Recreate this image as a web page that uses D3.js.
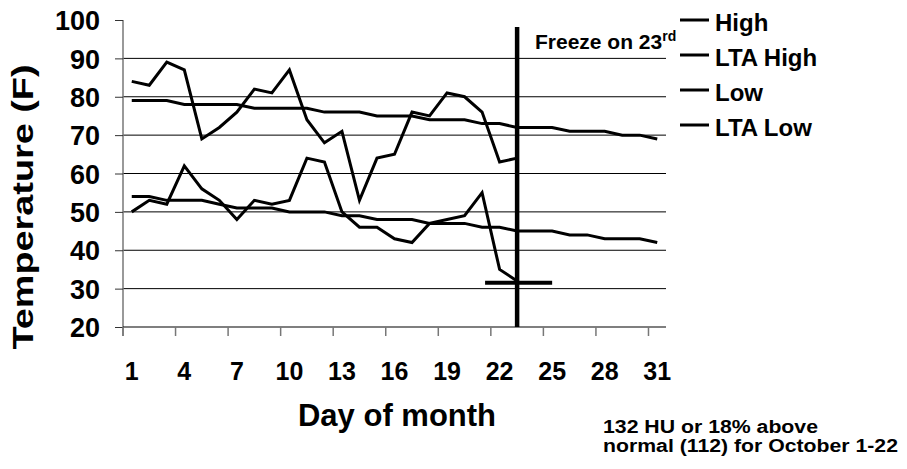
<!DOCTYPE html>
<html>
<head>
<meta charset="utf-8">
<script src="https://cdn.jsdelivr.net/npm/d3@7"></script>
<style>
  body { margin: 0; background: #fff; }
  svg text { font-family: "Liberation Sans", Arial, sans-serif; font-weight: bold; fill: #000; }
</style>
</head>
<body>
<svg id="chart" width="907" height="469"></svg>
<script>
// October daily temperatures (F)
const days = d3.range(1, 32);
const high = [84, 83, 89, 87, 69, 72, 76, 82, 81, 87, 74, 68, 71, 53, 64, 65, 76, 75, 81, 80, 76, 63, 64];
const ltaHigh = [79, 79, 79, 78, 78, 78, 78, 77, 77, 77, 77, 76, 76, 76, 75, 75, 75, 74, 74, 74, 73, 73,
                 72, 72, 72, 71, 71, 71, 70, 70, 69];
const low = [50, 53, 52, 62, 56, 53, 48, 53, 52, 53, 64, 63, 50, 46, 46, 43, 42, 47, 48, 49, 55, 35, 32];
const ltaLow = [54, 54, 53, 53, 53, 52, 51, 51, 51, 50, 50, 50, 49, 49, 48, 48, 48, 47, 47, 47, 46, 46,
                45, 45, 45, 44, 44, 43, 43, 43, 42];
const yTicks = [20, 30, 40, 50, 60, 70, 80, 90, 100];
const xTickDays = [1, 4, 7, 10, 13, 16, 19, 22, 25, 28, 31];
const seriesNames = ["High", "LTA High", "Low", "LTA Low"];
const noteLines = ["132 HU or 18% above", "normal (112) for October 1-22"];
const freezeDay = 23;
const freezeTemp = 31.5;
const freezeSpan = [21, 25];

const svg = d3.select("#chart");
const plot = {left: 123, right: 666, top: 20, bottom: 327};

const x = d3.scaleBand().domain(days).range([plot.left, plot.right]).padding(0);
const xc = d => x(d) + x.bandwidth() / 2;
const y = d3.scaleLinear().domain([20, 100]).range([plot.bottom, plot.top]);

// gridlines
svg.append("g")
  .selectAll("line")
  .data(yTicks.filter(v => v > 20 && v < 100))
  .join("line")
  .attr("x1", plot.left).attr("x2", plot.right)
  .attr("y1", d => y(d)).attr("y2", d => y(d))
  .attr("stroke", "#000").attr("stroke-width", 1);

// y axis
const yAxis = svg.append("g")
  .attr("transform", `translate(${plot.left},0)`)
  .call(d3.axisLeft(y).tickValues(yTicks).tickSize(8).tickPadding(15).tickFormat(d3.format("d")));
yAxis.select(".domain").attr("stroke", "#777").attr("stroke-width", 1.5)
  .attr("d", `M0,${plot.top}V${plot.bottom + 9}`);
yAxis.selectAll(".tick line").attr("stroke", "#333");
yAxis.selectAll("text").style("font-size", "27px").attr("dy", "0.36em");

// x axis
svg.append("line")
  .attr("x1", plot.left).attr("x2", plot.right)
  .attr("y1", plot.bottom).attr("y2", plot.bottom)
  .attr("stroke", "#000").attr("stroke-width", 1.2);

svg.append("g")
  .selectAll("line")
  .data(xTickDays)
  .join("line")
  .attr("x1", d => x(d)).attr("x2", d => x(d))
  .attr("y1", plot.bottom).attr("y2", plot.bottom + 9)
  .attr("stroke", "#777").attr("stroke-width", 1.5);

svg.append("g")
  .selectAll("text")
  .data(xTickDays)
  .join("text")
  .attr("x", d => xc(d))
  .attr("y", 380)
  .attr("text-anchor", "middle")
  .style("font-size", "25px")
  .text(d => d);

// axis titles
svg.append("text")
  .attr("transform", "translate(33,207) rotate(-90)")
  .attr("text-anchor", "middle")
  .attr("textLength", 285)
  .attr("lengthAdjust", "spacingAndGlyphs")
  .style("font-size", "30px")
  .text("Temperature (F)");

svg.append("text")
  .attr("x", 397).attr("y", 426)
  .attr("text-anchor", "middle")
  .style("font-size", "31px")
  .text("Day of month");

// data lines
const line = d3.line().x((d, i) => xc(days[i])).y(d => y(d));
[high, ltaHigh, low, ltaLow].forEach(s => {
  svg.append("path")
    .datum(s)
    .attr("d", line)
    .attr("fill", "none")
    .attr("stroke", "#000")
    .attr("stroke-width", 3)
    .attr("stroke-linejoin", "miter");
});

// freeze markers
svg.append("line")
  .attr("x1", xc(freezeDay)).attr("x2", xc(freezeDay))
  .attr("y1", 27).attr("y2", plot.bottom)
  .attr("stroke", "#000").attr("stroke-width", 4.5);

svg.append("line")
  .attr("x1", xc(freezeSpan[0]) + 3).attr("x2", xc(freezeSpan[1]))
  .attr("y1", y(freezeTemp)).attr("y2", y(freezeTemp))
  .attr("stroke", "#000").attr("stroke-width", 4);

const ft = svg.append("text")
  .attr("x", 535).attr("y", 49)
  .style("font-size", "21px");
ft.append("tspan").text("Freeze on 23");
ft.append("tspan").attr("dy", -8).style("font-size", "14px").text("rd");

// legend
const lg = svg.append("g")
  .selectAll("g")
  .data(seriesNames)
  .join("g")
  .attr("transform", (d, i) => `translate(680,${20 + i * 35})`);
lg.append("line").attr("x1", 0).attr("x2", 29).attr("stroke", "#000").attr("stroke-width", 3);
lg.append("text").attr("x", 35).attr("y", 10.5).style("font-size", "24px").text(d => d);

// footnote
const noteWidths = [215, 295];
svg.append("g")
  .selectAll("text")
  .data(noteLines)
  .join("text")
  .attr("x", 603)
  .attr("y", (d, i) => 433 + i * 19)
  .attr("textLength", (d, i) => noteWidths[i])
  .attr("lengthAdjust", "spacingAndGlyphs")
  .style("font-size", "17.5px")
  .text(d => d);
</script>
</body>
</html>
